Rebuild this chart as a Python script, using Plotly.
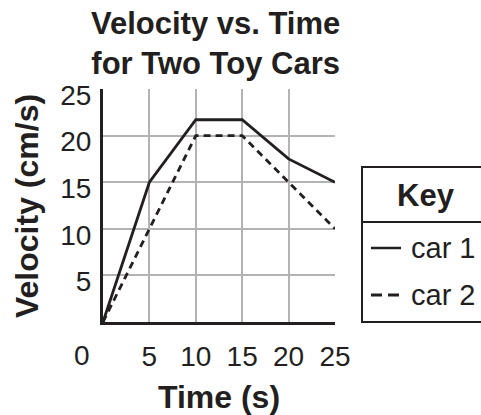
import plotly.graph_objects as go

TIME = [0, 5, 10, 15, 20, 25]
CAR1 = [0, 15, 21.7, 21.7, 17.5, 15]
CAR2 = [0, 10, 20, 20, 15, 10]
X_TICKS = [5, 10, 15, 20, 25]
Y_TICKS = [5, 10, 15, 20, 25]

INK = "#231f20"
GRID = "#b3b3b3"
FONT = "Liberation Sans, Arial, sans-serif"

W, H = 481, 415
L, R, T, B = 103, 335, 89, 322


def px(x):
    return (x - L) / (R - L)


def py(y):
    return (B - y) / (B - T)


fig = go.Figure()
fig.add_trace(go.Scatter(x=TIME, y=CAR1, mode="lines", name="car 1",
                         line=dict(color=INK, width=2.8), cliponaxis=False))
fig.add_trace(go.Scatter(x=TIME, y=CAR2, mode="lines", name="car 2",
                         line=dict(color=INK, width=2.8, dash="7px,5px"), cliponaxis=False))

fig.update_layout(
    width=W, height=H,
    margin=dict(l=L, r=W - R, t=T, b=H - B, autoexpand=False),
    paper_bgcolor="white", plot_bgcolor="white",
    showlegend=False,
    font=dict(family=FONT, color=INK, size=28),
)

fig.update_xaxes(range=[0, 25], tickvals=X_TICKS, showgrid=True, gridcolor=GRID, gridwidth=2,
                 showline=True, linecolor=INK, linewidth=3, zeroline=False, ticks="",
                 ticklabelstandoff=7, automargin=False,
                 title=dict(text="<b>Time (s)</b>", font=dict(size=32), standoff=16))
fig.update_yaxes(range=[0, 25], tickvals=Y_TICKS, showgrid=True, gridcolor=GRID, gridwidth=2,
                 showline=True, linecolor=INK, linewidth=3, zeroline=False, ticks="",
                 ticklabelshift=6, ticklabelstandoff=3, automargin=False)

# title as a two-line annotation
fig.add_annotation(x=px(215), y=py(4), xref="paper", yref="paper", yanchor="top", xanchor="center",
                   text="<b>Velocity vs. Time<br>for Two Toy Cars</b>", showarrow=False,
                   font=dict(size=31))

# y-axis title
fig.add_annotation(x=px(27), y=py(206), xref="paper", yref="paper", xanchor="center", yanchor="middle",
                   text="<b>Velocity (cm/s)</b>", textangle=-90, showarrow=False,
                   font=dict(size=32))

# lone "0" under the origin, set off to the left as in the original
fig.add_annotation(x=0, y=0, xref="x", yref="y", text="0", showarrow=False,
                   xshift=-21, yshift=-33, font=dict(size=28))

# key box
fig.add_shape(type="path", xref="paper", yref="paper",
              path=f"M {px(500)} {py(167)} L {px(362)} {py(167)} L {px(362)} {py(322)} L {px(500)} {py(322)}",
              line=dict(color=INK, width=2))
fig.add_shape(type="line", xref="paper", yref="paper", x0=px(362), x1=px(500), y0=py(222), y1=py(222),
              line=dict(color=INK, width=2))
fig.add_annotation(x=px(426), y=py(195), xref="paper", yref="paper", text="<b>Key</b>",
                   xanchor="center", yanchor="middle", showarrow=False, font=dict(size=31))
fig.add_shape(type="line", xref="paper", yref="paper", x0=px(371), x1=px(401), y0=py(248), y1=py(248),
              line=dict(color=INK, width=2.5))
fig.add_shape(type="line", xref="paper", yref="paper", x0=px(371), x1=px(400), y0=py(295), y1=py(295),
              line=dict(color=INK, width=2.8, dash="11px,6px"))
fig.add_annotation(x=px(409), y=py(248), xref="paper", yref="paper", text="car 1",
                   xanchor="left", yanchor="middle", showarrow=False, font=dict(size=29))
fig.add_annotation(x=px(409), y=py(295), xref="paper", yref="paper", text="car 2",
                   xanchor="left", yanchor="middle", showarrow=False, font=dict(size=29))

fig.write_html("out.html", config={"displayModeBar": False},
               post_script="document.body.style.margin='0';")
